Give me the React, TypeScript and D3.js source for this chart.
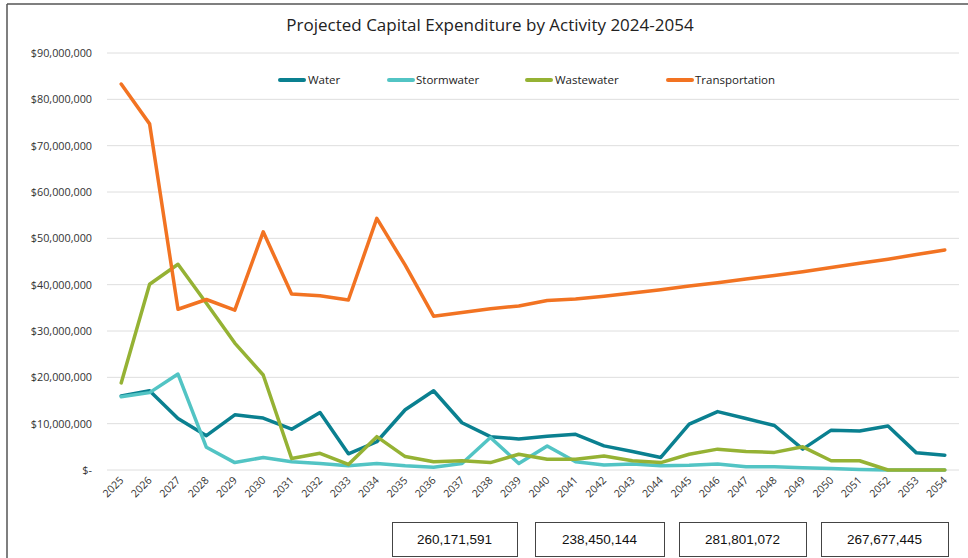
import React from "react";
import * as d3 from "d3";

const years = [
  2025, 2026, 2027, 2028, 2029, 2030, 2031, 2032, 2033, 2034, 2035, 2036, 2037, 2038, 2039,
  2040, 2041, 2042, 2043, 2044, 2045, 2046, 2047, 2048, 2049, 2050, 2051, 2052, 2053, 2054,
];

// values in $ millions
const water = [
  16.0, 17.1, 11.1, 7.4, 11.9, 11.2, 8.8, 12.4, 3.5, 6.1, 13.0, 17.1, 10.2, 7.2, 6.7,
  7.3, 7.7, 5.2, 4.0, 2.7, 9.9, 12.6, 11.1, 9.6, 4.5, 8.6, 8.4, 9.5, 3.7, 3.2,
];
const stormwater = [
  15.8, 16.7, 20.7, 4.9, 1.6, 2.7, 1.8, 1.4, 0.9, 1.4, 0.9, 0.6, 1.4, 7.0, 1.4,
  5.2, 1.8, 1.1, 1.3, 0.9, 1.0, 1.3, 0.7, 0.7, 0.5, 0.3, 0.1, 0, 0, 0,
];
const wastewater = [
  18.8, 40.1, 44.4, 36.0, 27.4, 20.5, 2.5, 3.6, 1.2, 7.2, 2.9, 1.8, 2.0, 1.6, 3.4,
  2.3, 2.3, 3.0, 2.0, 1.6, 3.4, 4.5, 4.0, 3.8, 5.0, 2.0, 2.0, 0, 0, 0,
];
const transportation = [
  83.3, 74.7, 34.7, 36.8, 34.5, 51.4, 38.0, 37.6, 36.7, 54.3, 44.2, 33.2, 34.0, 34.8, 35.4,
  36.6, 36.9, 37.5, 38.2, 38.9, 39.7, 40.4, 41.2, 42.0, 42.8, 43.7, 44.6, 45.5, 46.5, 47.5,
];

const seriesNames = ["Water", "Stormwater", "Wastewater", "Transportation"];
const seriesColors = ["#0a8090", "#52c4c4", "#95b234", "#f27322"];
const seriesData = [water, stormwater, wastewater, transportation];

const yTicks = [0, 10, 20, 30, 40, 50, 60, 70, 80, 90];
const totals = ["260,171,591", "238,450,144", "281,801,072", "267,677,445"];

const W = 968;
const H = 558;

export default function App() {
  const x = d3
    .scalePoint<number>()
    .domain(years)
    .range([107, 959])
    .padding(0.5);
  const y = d3.scaleLinear().domain([0, 90]).range([470, 53]);

  const line = d3
    .line<number>()
    .x((_, i) => x(years[i]) as number)
    .y((d) => y(d));

  const fmt = (v: number) =>
    v === 0 ? "$-" : "$" + d3.format(",")(v * 1000000);

  const legendItems = [
    { lx: 278, tx: 308 },
    { lx: 387, tx: 416 },
    { lx: 525, tx: 555 },
    { lx: 666, tx: 695 },
  ];

  const boxes = [
    { x0: 392, x1: 517 },
    { x0: 535, x1: 664 },
    { x0: 679, x1: 806 },
    { x0: 821, x1: 948 },
  ];

  const font = "Open Sans, Noto Sans, sans-serif";

  return (
    <svg
      width={W}
      height={H}
      style={{ position: "absolute", left: 0, top: 0, background: "#fff" }}
    >
      <rect x={0} y={0} width={W} height={H} fill="#fff" />
      {/* frame */}
      <line x1={7} x2={W} y1={4} y2={4} stroke="#555" strokeWidth={1.5} />
      <line x1={7} x2={7} y1={4} y2={H} stroke="#555" strokeWidth={1.5} />

      <text
        x={490}
        y={31}
        textAnchor="middle"
        fontFamily={font}
        fontSize={17}
        fill="#222"
      >
        Projected Capital Expenditure by Activity 2024-2054
      </text>

      {/* gridlines */}
      {yTicks.map((t) => (
        <line
          key={t}
          x1={107}
          x2={959}
          y1={y(t)}
          y2={y(t)}
          stroke="#dedede"
          strokeWidth={1}
        />
      ))}
      {yTicks.map((t) => (
        <text
          key={"l" + t}
          x={92}
          y={y(t) + 4}
          textAnchor="end"
          fontFamily={font}
          fontSize={10.8}
          fill="#333"
        >
          {fmt(t)}
        </text>
      ))}

      {/* x labels */}
      {years.map((yr) => {
        const px = x(yr) as number;
        return (
          <text
            key={yr}
            transform={`translate(${px + 3},${481}) rotate(-45)`}
            textAnchor="end"
            fontFamily={font}
            fontSize={10.5}
            fill="#333"
          >
            {yr}
          </text>
        );
      })}

      {/* series */}
      {seriesData.map((d, i) => (
        <path
          key={seriesNames[i]}
          d={line(d) || ""}
          fill="none"
          stroke={seriesColors[i]}
          strokeWidth={3.5}
          strokeLinejoin="round"
          strokeLinecap="round"
        />
      ))}

      {/* legend */}
      {seriesNames.map((n, i) => (
        <g key={"lg" + n}>
          <line
            x1={legendItems[i].lx + 2}
            x2={legendItems[i].lx + 26}
            y1={80}
            y2={80}
            stroke={seriesColors[i]}
            strokeWidth={4}
            strokeLinecap="round"
          />
          <text
            x={legendItems[i].tx}
            y={84}
            fontFamily={font}
            fontSize={11.5}
            fill="#222"
          >
            {n}
          </text>
        </g>
      ))}

      {/* totals boxes */}
      {totals.map((t, i) => (
        <g key={"b" + i}>
          <rect
            x={boxes[i].x0 + 0.5}
            y={522.5}
            width={boxes[i].x1 - boxes[i].x0}
            height={34}
            fill="#fff"
            stroke="#444"
            strokeWidth={1}
          />
          <text
            x={(boxes[i].x0 + boxes[i].x1) / 2}
            y={544}
            textAnchor="middle"
            fontFamily="Liberation Sans, Arial, sans-serif"
            fontSize={13.5}
            fill="#111"
          >
            {t}
          </text>
        </g>
      ))}
    </svg>
  );
}
